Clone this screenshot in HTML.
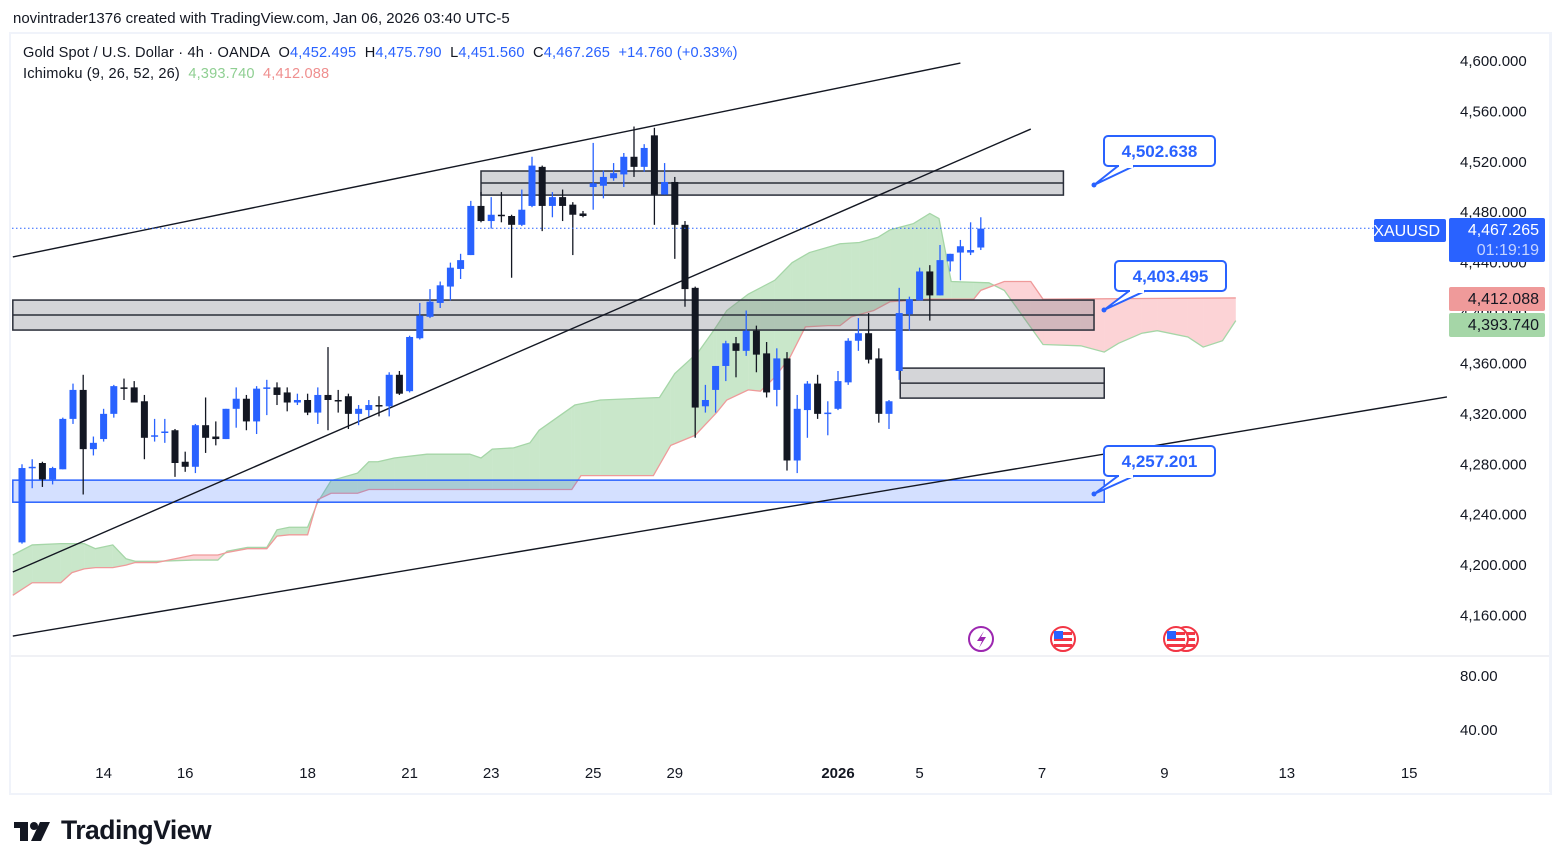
<!DOCTYPE html>
<html><head><meta charset="utf-8">
<style>
html,body{margin:0;padding:0;background:#fff;}
body{width:1563px;height:868px;position:relative;overflow:hidden;font-family:"Liberation Sans",sans-serif;color:#131722;}
.abs{position:absolute;white-space:nowrap;}
.blue{color:#2962ff;}
</style></head>
<body>
<div class="abs" style="left:13px;top:10px;font-size:15px;">novintrader1376 created with TradingView.com, Jan 06, 2026 03:40 UTC-5</div>
<div class="abs" style="left:9px;top:32px;width:1539px;height:759px;border:2px solid #f0f3fa;"></div>
<svg id="chart" width="1563" height="868" style="position:absolute;left:0;top:0;" xmlns="http://www.w3.org/2000/svg"></svg>
<div class="abs" style="left:23px;top:45px;font-size:14.6px;letter-spacing:0.15px;">Gold Spot / U.S. Dollar · 4h · OANDA&nbsp; O<span class="blue">4,452.495</span>&nbsp; H<span class="blue">4,475.790</span>&nbsp; L<span class="blue">4,451.560</span>&nbsp; C<span class="blue">4,467.265</span>&nbsp; <span class="blue">+14.760 (+0.33%)</span></div>
<div class="abs" style="left:23px;top:66px;font-size:14.6px;letter-spacing:0.15px;">Ichimoku (9, 26, 52, 26)&nbsp; <span style="color:#8fcf92">4,393.740</span>&nbsp; <span style="color:#ef8f8f">4,412.088</span></div>
<div class="abs" style="left:14px;top:815px;height:30px;">
<svg width="44" height="24" style="position:absolute;left:0;top:5px"><rect x="0" y="2" width="14" height="6" fill="#131722"/><rect x="6" y="2" width="8" height="19" fill="#131722"/><circle cx="20" cy="6" r="4" fill="#131722"/><polygon points="26,2 36,2 27,21 17,21" fill="#131722"/></svg>
<span style="position:absolute;left:47px;top:0px;font-size:26.5px;font-weight:bold;letter-spacing:-0.5px;">TradingView</span></div>
<script>
// ---- data ----
const candleOpen=[4218,4277,4281,4268,4276,4316,4339,4292,4300,4320,4341,4341,4330,4303,4305,4307,4282,4278,4311,4302,4300,4324,4332,4314,4340,4341,4337,4329,4331,4321,4335,4331,4334,4320,4323,4327,4326,4351,4338,4380,4397,4408,4421,4435,4446,4485,4473,4478,4477,4470,4485,4516,4485,4492,4486,4479,4500,4501,4507,4510,4524,4516,4541,4494,4504,4470,4420,4326,4339,4358,4376,4370,4386,4368,4339,4364,4283,4323,4344,4320,4324,4345,4378,4384,4364,4320,4354,4399,4410,4433,4414,4441,4448,4448,4452];
const candleHigh=[4280,4284,4282,4278,4317,4344,4351,4302,4324,4343,4348,4346,4335,4316,4316,4308,4290,4312,4333,4314,4324,4341,4335,4342,4347,4345,4341,4336,4336,4341,4373,4339,4336,4327,4331,4334,4353,4354,4382,4408,4419,4425,4440,4447,4489,4496,4492,4496,4478,4498,4524,4517,4496,4498,4488,4481,4535,4513,4519,4527,4548,4534,4547,4519,4508,4473,4421,4343,4358,4378,4381,4402,4390,4377,4372,4369,4335,4346,4351,4330,4354,4380,4396,4400,4372,4331,4420,4413,4436,4438,4454,4447,4458,4472,4476];
const candleLow=[4217,4261,4262,4264,4276,4312,4256,4287,4298,4317,4331,4329,4284,4298,4297,4270,4274,4273,4289,4295,4300,4309,4307,4304,4319,4327,4322,4327,4319,4312,4307,4321,4308,4311,4318,4318,4318,4335,4337,4379,4396,4404,4410,4427,4446,4472,4467,4472,4428,4469,4484,4465,4476,4473,4446,4476,4482,4491,4505,4500,4508,4512,4470,4494,4443,4405,4301,4321,4321,4346,4349,4366,4353,4333,4326,4275,4273,4301,4316,4303,4323,4343,4370,4360,4313,4308,4347,4386,4410,4394,4414,4433,4426,4446,4450];
const candleClose=[4277,4278,4268,4277,4316,4339,4292,4297,4320,4342,4340,4329,4301,4303,4306,4281,4278,4311,4301,4300,4324,4332,4314,4340,4341,4335,4329,4331,4321,4335,4331,4330,4320,4324,4327,4326,4351,4336,4381,4398,4409,4422,4436,4442,4485,4473,4478,4477,4470,4482,4517,4485,4492,4485,4478,4477,4503,4508,4511,4524,4516,4531,4494,4504,4470,4419,4325,4331,4358,4376,4370,4386,4367,4337,4364,4283,4324,4344,4320,4321,4346,4378,4384,4363,4320,4330,4400,4411,4433,4414,4442,4447,4453,4450,4467];
const spanAIdx=[-0.9,1.0,3.8,6.1,7.2,8.9,10.2,11.1,13.2,16.8,19.2,20.1,22.1,24.0,25.0,26.2,28.0,29.0,30.3,32.9,34.0,34.9,36.5,39.7,43.9,45.0,46.1,48.2,49.8,50.7,54.2,56.7,62.5,64.0,66.3,67.8,69.1,71.2,73.8,75.5,77.2,80.2,82.1,83.9,85.1,87.4,89.0,89.9,91.1,94.8,96.3,100.1,103.8,106.1,107.5,109.8,111.3,114.3,115.8,117.7,119.0];
const spanA=[4208,4216,4217,4217,4213,4216,4205,4203,4203,4204,4204,4211,4214,4214,4228,4230,4230,4250,4267,4273,4282,4282,4285,4288,4288,4285,4292,4293,4297,4307,4327,4331,4333,4352,4369,4386,4402,4415,4426,4440,4448,4455,4456,4460,4466,4471,4479,4475,4425,4424,4418,4375,4374,4369,4376,4384,4386,4381,4373,4378,4394];
const spanBIdx=[-0.9,1.0,3.8,4.9,6.1,7.2,8.9,10.2,11.1,13.2,16.8,19.2,20.1,22.1,24.0,25.0,26.2,28.0,29.0,30.3,32.9,34.0,53.9,54.8,61.9,63.6,66.0,68.1,69.1,71.2,72.4,73.8,75.3,76.8,79.0,80.2,81.3,83.5,85.1,88.8,93.3,94.0,96.3,98.9,100.1,119.0];
const spanB=[4176,4186,4186,4194,4197,4198,4198,4200,4202,4202,4208,4208,4210,4213,4213,4223,4224,4224,4252,4257,4257,4260,4260,4271,4271,4295,4303,4321,4331,4339,4338,4349,4365,4389,4390,4390,4397,4402,4409,4411,4411,4418,4425,4425,4411,4412];
const priceTicks=[4600,4560,4520,4480,4440,4400,4360,4320,4280,4240,4200,4160];
const timeLabels=["14","16","18","21","23","25","29","2026","5","7","9","13","15"];
const timeLabelIdx=[8,16,28,38,46,56,64,80,88,100,112,124,136];
const zoneStart=[45,-0.9,86.1];
const zoneEnd=[102.1,105.1,106.1];
const zoneTop=[4512.7,4410.3,4356.3];
const zoneBottom=[4493.6,4386.5,4332.5];
const trendStartIdx=[-0.9,-0.9,-0.9];
const trendStartPrice=[4444.5,4194.5,4143.7];
const trendEndIdx=[92.0,98.9,139.7];
const trendEndPrice=[4598.4,4546.0,4333.4];
const lastPrice=4467.265;

// ---- axes ----
const X=i=>22+i*10.2;
const Y=p=>61+(4600-p)*1.2602;
const NS="http://www.w3.org/2000/svg";
const svg=document.getElementById('chart');
function mk(tag,attrs,parent){const e=document.createElementNS(NS,tag);for(const k in attrs)e.setAttribute(k,attrs[k]);(parent||svg).appendChild(e);return e;}

const defs=mk('defs',{});
const cp=mk('clipPath',{id:'plotclip'},defs);
mk('rect',{x:11,y:34,width:1437,height:621},cp);
const plot=mk('g',{'clip-path':'url(#plotclip)'});



// cloud
function interp(xs,ys,x){if(x<=xs[0])return ys[0];for(let k=1;k<xs.length;k++){if(x<=xs[k]){const t=(x-xs[k-1])/(xs[k]-xs[k-1]);return ys[k-1]+t*(ys[k]-ys[k-1]);}}return ys[ys.length-1];}
const grid=[...new Set(spanAIdx.concat(spanBIdx))].sort((a,b)=>a-b);
const cloudG=mk('g',{},plot);


for(let k=0;k<grid.length-1;k++){
  const g0=grid[k],g1=grid[k+1];
  const a0=interp(spanAIdx,spanA,g0),b0=interp(spanBIdx,spanB,g0),a1=interp(spanAIdx,spanA,g1),b1=interp(spanBIdx,spanB,g1);
  const d0=a0-b0,d1=a1-b1;
  const segs=[];
  if(d0*d1<0){const t=d0/(d0-d1);const gm=g0+t*(g1-g0);const pm=a0+t*(a1-a0);segs.push([g0,a0,b0,gm,pm,pm,d0]);segs.push([gm,pm,pm,g1,a1,b1,d1]);}
  else segs.push([g0,a0,b0,g1,a1,b1,d0+d1]);
  for(const s of segs){
    const poly=mk('polygon',{points:`${X(s[0])},${Y(s[1])} ${X(s[3])},${Y(s[4])} ${X(s[3])},${Y(s[5])} ${X(s[0])},${Y(s[2])}`,fill:s[6]>=0?'rgba(76,175,80,0.3)':'rgba(242,54,69,0.22)',stroke:'none'},cloudG);
    
    
  }
}
const lineA=mk('polyline',{points:spanAIdx.map((v,k)=>X(v)+','+Y(spanA[k])).join(' '),fill:'none',stroke:'#a5d6a7','stroke-width':1.3},plot);


const lineB=mk('polyline',{points:spanBIdx.map((v,k)=>X(v)+','+Y(spanB[k])).join(' '),fill:'none',stroke:'#ef9a9a','stroke-width':1.3},plot);



// zones
for(let k=0;k<zoneStart.length;k++){
  const x0=X(zoneStart[k]),x1=X(zoneEnd[k]),y0=Y(zoneTop[k]),y1=Y(zoneBottom[k]);
  const r=mk('rect',{x:x0,y:y0,width:x1-x0,height:y1-y0,fill:'rgba(120,123,134,0.32)',stroke:'#2a2e39','stroke-width':1.5},plot);
  
  
  const m=mk('line',{x1:x0,x2:x1,y1:(y0+y1)/2,y2:(y0+y1)/2,stroke:'#2a2e39','stroke-width':1.5},plot);
  
  
}
const bz=mk('rect',{x:X(-0.9),y:Y(4267.4),width:X(106.1)-X(-0.9),height:Y(4249.9)-Y(4267.4),fill:'rgba(41,98,255,0.2)',stroke:'#2962ff','stroke-width':1.5},plot);



// trend lines
for(let k=0;k<trendStartIdx.length;k++){
  const l=mk('line',{x1:X(trendStartIdx[k]),y1:Y(trendStartPrice[k]),x2:X(trendEndIdx[k]),y2:Y(trendEndPrice[k]),stroke:'#131722','stroke-width':1.4},plot);
  
  
}

// candles
for(let i=0;i<candleOpen.length;i++){
  const o=candleOpen[i],c=candleClose[i],h=candleHigh[i],lo=candleLow[i];
  const col=c>=o?'#2962ff':'#131722';
  const x=X(i);
  const g=mk('g',{},plot);
  
  
  mk('line',{x1:x,x2:x,y1:Y(h),y2:Y(lo),stroke:col,'stroke-width':1.3},g);
  const top=Y(Math.max(o,c)),bot=Y(Math.min(o,c));
  mk('rect',{x:x-3.5,y:top,width:7,height:Math.max(1.5,bot-top),fill:col},g);
}

// last price line
const lp=mk('line',{x1:12,x2:1448,y1:Y(lastPrice),y2:Y(lastPrice),stroke:'#2962ff','stroke-width':1,'stroke-dasharray':'1.5 2.5'},plot);



// callouts
function callout(name,text,bx,by,px,py){
  const g=mk('g',{});
  
  
  mk('path',{d:`M${bx+14},${by+30} L${px},${py} L${bx+30},${by+30}`,fill:'#fff',stroke:'#2962ff','stroke-width':2},g);
  mk('rect',{x:bx,y:by,width:111,height:30,rx:4,fill:'#fff',stroke:'#2962ff','stroke-width':2},g);
  mk('rect',{x:bx+15,y:by+27,width:14,height:5,fill:'#fff'},g);
  mk('circle',{cx:px,cy:py,r:2.5,fill:'#2962ff'},g);
  const t=mk('text',{x:bx+55.5,y:by+21,'text-anchor':'middle','font-size':17,'font-weight':'bold',fill:'#2962ff','font-family':'Liberation Sans, sans-serif'},g);
  t.textContent=text;
}
callout('callout-4502','4,502.638',1104,136,1094,185);
callout('callout-4403','4,403.495',1115,261,1104,310);
callout('callout-4257','4,257.201',1104,446,1094,494);

// pane separator + axes borders
const sep=mk('line',{x1:11,x2:1549,y1:656,y2:656,stroke:'#e0e3eb','stroke-width':1});


const rb=mk('line',{x1:1550,x2:1550,y1:34,y2:792,stroke:'#f0f3fa','stroke-width':2});



// price axis
for(const p of priceTicks){
  const t=mk('text',{x:1460,y:Y(p)+5,'font-size':15,fill:'#131722','font-family':'Liberation Sans, sans-serif'});
  
  
  t.textContent=p.toLocaleString('en-US',{minimumFractionDigits:3});
}
for(const [v,yy] of [['80.00',681],['40.00',735]]){
  const t=mk('text',{x:1460,y:yy,'font-size':15,fill:'#131722','font-family':'Liberation Sans, sans-serif'});
  
  
  t.textContent=v;
}
// time axis
for(let k=0;k<timeLabels.length;k++){
  const t=mk('text',{x:X(timeLabelIdx[k]),y:778,'text-anchor':'middle','font-size':15,fill:'#131722','font-weight':timeLabels[k]==='2026'?'bold':'normal','font-family':'Liberation Sans, sans-serif'});
  
  
  t.textContent=timeLabels[k];
}

// axis badges
function badge(name,x,y,w,h,bg,lines,col){
  const g=mk('g',{});
  
  
  mk('rect',{x:x,y:y,width:w,height:h,rx:2,fill:bg},g);
  lines.forEach((s,k)=>{const t=mk('text',{x:x+w-6,y:y+17+k*20,'text-anchor':'end','font-size':16,fill:k===1?'#c6d4ff':col,'font-family':'Liberation Sans, sans-serif'},g);t.textContent=s;});
}
badge('symbol-badge',1374,219,72,23,'#2962ff',['XAUUSD'],'#fff');
badge('last-price-badge',1449,218,96,44,'#2962ff',['4,467.265','01:19:19'],'#fff');
badge('span-b-badge',1449,287,96,24,'#ef9a9a',['4,412.088'],'#131722');
badge('span-a-badge',1449,313,96,24,'#a5d6a7',['4,393.740'],'#131722');

// event icons
const ev=mk('g',{});


mk('circle',{cx:981,cy:639,r:12,fill:'#fff',stroke:'#9c27b0','stroke-width':2},ev);
mk('path',{d:'M984,631 L977,641 L982,641 L979,648 L986,637 L981,637 Z',fill:'#9c27b0'},ev);
for(const cx of [1186,1176,1063]){
  mk('circle',{cx:cx,cy:639,r:12,fill:'#fff',stroke:'#f23645','stroke-width':2},ev);
  mk('rect',{x:cx-9,y:632,width:18,height:3,fill:'#f23645'},ev);
  mk('rect',{x:cx-9,y:638,width:18,height:3,fill:'#f23645'},ev);
  mk('rect',{x:cx-9,y:644,width:18,height:3,fill:'#f23645'},ev);
  mk('rect',{x:cx-9,y:631,width:9,height:8,fill:'#2962ff'},ev);
}
</script>
</body></html>
